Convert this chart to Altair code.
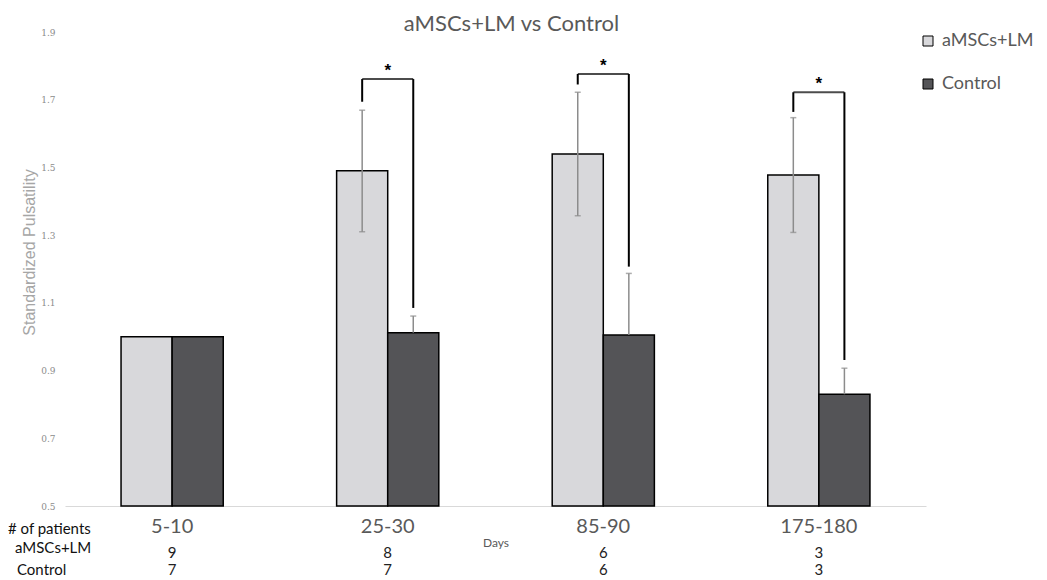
import altair as alt
import pandas as pd

days = ["5-10", "25-30", "85-90", "175-180"]
series = ["aMSCs+LM", "Control"]
amsc_values = [1.0, 1.49, 1.54, 1.478]
control_values = [1.0, 1.012, 1.005, 0.83]
amsc_err_low = [None, 1.31, 1.357, 1.308]
amsc_err_high = [None, 1.669, 1.722, 1.647]
control_err_high = [None, 1.061, 1.187, 0.907]
amsc_n = [9, 8, 6, 3]
control_n = [7, 7, 6, 3]
sig_days = ["25-30", "85-90", "175-180"]
sig_top = [1.761, 1.776, 1.722]
sig_left_end = [1.694, 1.745, 1.664]
sig_right_end = [1.085, 1.207, 0.931]
y_ticks = [0.5, 0.7, 0.9, 1.1, 1.3, 1.5, 1.7, 1.9]

LIGHT = "#d8d8db"
DARK = "#545457"
FONT = "Lato"

bars = pd.DataFrame(
    [{"day": d, "series": series[0], "value": v} for d, v in zip(days, amsc_values)]
    + [{"day": d, "series": series[1], "value": v} for d, v in zip(days, control_values)]
)

err_rows, cap_rows = [], []
for i, d in enumerate(days):
    if amsc_err_high[i] is not None:
        err_rows.append({"day": d, "series": series[0], "lo": amsc_err_low[i], "hi": amsc_err_high[i]})
        cap_rows.append({"day": d, "series": series[0], "y": amsc_err_low[i]})
        cap_rows.append({"day": d, "series": series[0], "y": amsc_err_high[i]})
    if control_err_high[i] is not None:
        err_rows.append({"day": d, "series": series[1], "lo": control_values[i], "hi": control_err_high[i]})
        cap_rows.append({"day": d, "series": series[1], "y": control_err_high[i]})
errs = pd.DataFrame(err_rows)
caps = pd.DataFrame(cap_rows)

legs = pd.DataFrame(
    [{"day": d, "series": series[0], "top": t, "end": e} for d, t, e in zip(sig_days, sig_top, sig_left_end)]
    + [{"day": d, "series": series[1], "top": t, "end": e} for d, t, e in zip(sig_days, sig_top, sig_right_end)]
)
sig = pd.DataFrame({"day": sig_days, "top": sig_top, "star": ["*"] * len(sig_days)})
counts_a = pd.DataFrame({"day": days, "n": amsc_n})
counts_c = pd.DataFrame({"day": days, "n": control_n})

X = alt.X(
    "day:N",
    sort=days,
    scale=alt.Scale(paddingInner=0.526, paddingOuter=0.26),
    axis=alt.Axis(
        title="Days", labelAngle=0, ticks=False, domainColor="#d9d9d9", domainWidth=1,
        labelFontSize=20, labelColor="#595959", labelFont=FONT, labelPadding=10,
        titleFontSize=12, titleFontWeight="normal", titleColor="#595959", titleFont=FONT,
        titleY=36, titleBaseline="middle",
    ),
)
XO = alt.XOffset("series:N", sort=series, scale=alt.Scale(paddingInner=0, paddingOuter=0))
Yscale = alt.Scale(domain=[0.5, 1.9], nice=False, zero=False)
Yaxis = alt.Axis(
    values=y_ticks, format=".1f", title="Standardized  Pulsatility", grid=False, domain=False, ticks=False,
    labelFontSize=9, labelColor="#8c8c8c", labelPadding=10, labelFont="DejaVu Serif",
    titleFontSize=16, titleColor="#a6a6a6", titleFont="Liberation Sans", titleFontWeight="normal",
    titleX=-36, titleY=220, titleBaseline="middle",
)

bar_layer = alt.Chart(bars).mark_bar(stroke="black", strokeWidth=1.5).encode(
    x=X, xOffset=XO,
    y=alt.Y("value:Q", scale=Yscale, axis=Yaxis),
    y2=alt.datum(0.5),
    color=alt.Color(
        "series:N", sort=series, scale=alt.Scale(domain=series, range=[LIGHT, DARK]),
        legend=alt.Legend(
            orient="none", legendX=854, legendY=0, title=None, symbolType="square", symbolSize=100,
            symbolStrokeColor="black", symbolStrokeWidth=1, symbolOpacity=1,
            labelFontSize=18, labelColor="#595959", labelFont=FONT, rowPadding=25, labelOffset=5,
        ),
    ),
)

err_layer = alt.Chart(errs).mark_rule(color="#8c8c8c", strokeWidth=1.5).encode(
    x=X, xOffset=XO, y=alt.Y("lo:Q", scale=Yscale), y2="hi:Q"
)
cap_layer = alt.Chart(caps).mark_tick(color="#8c8c8c", size=6, thickness=1.5).encode(
    x=X, xOffset=XO, y=alt.Y("y:Q", scale=Yscale)
)
leg_layer = alt.Chart(legs).mark_rule(color="black", strokeWidth=2).encode(
    x=X, xOffset=XO, y=alt.Y("top:Q", scale=Yscale), y2="end:Q"
)
hbar_layer = alt.Chart(sig).mark_tick(color="black", size=51, thickness=2).encode(
    x=X, y=alt.Y("top:Q", scale=Yscale)
)
star_layer = alt.Chart(sig).mark_text(fontSize=17, fontWeight="bold", color="black", baseline="bottom", dy=1).encode(
    x=X, y=alt.Y("top:Q", scale=Yscale), text="star:N"
)
num_a = alt.Chart(counts_a).mark_text(fontSize=15, font=FONT, color="#222222").encode(
    x=X, y=alt.value(521), text="n:Q"
)
num_c = alt.Chart(counts_c).mark_text(fontSize=15, font=FONT, color="#222222").encode(
    x=X, y=alt.value(538), text="n:Q"
)

def row_label(txt, x, y):
    return alt.Chart(pd.DataFrame({"label": [txt]})).mark_text(
        fontSize=15, font=FONT, color="#111111", align="left", baseline="middle"
    ).encode(x=alt.value(x), y=alt.value(y), text="label:N")

chart = alt.layer(
    bar_layer, err_layer, cap_layer, leg_layer, hbar_layer, star_layer, num_a, num_c,
    row_label("# of patients", -57, 497),
    row_label("aMSCs+LM", -50, 516),
    row_label("Control", -48, 538),
).properties(
    width=861, height=474,
    title=alt.TitleParams("aMSCs+LM vs Control", fontSize=22, color="#595959", font=FONT,
                          fontWeight="normal", anchor="middle", dx=16, offset=-8),
    autosize=alt.AutoSizeParams(type="none"),
    padding={"left": 57, "top": 24, "right": 113, "bottom": 90},
).configure_view(stroke=None)

chart.save("out.html", embed_options={"renderer": "svg", "actions": False})
